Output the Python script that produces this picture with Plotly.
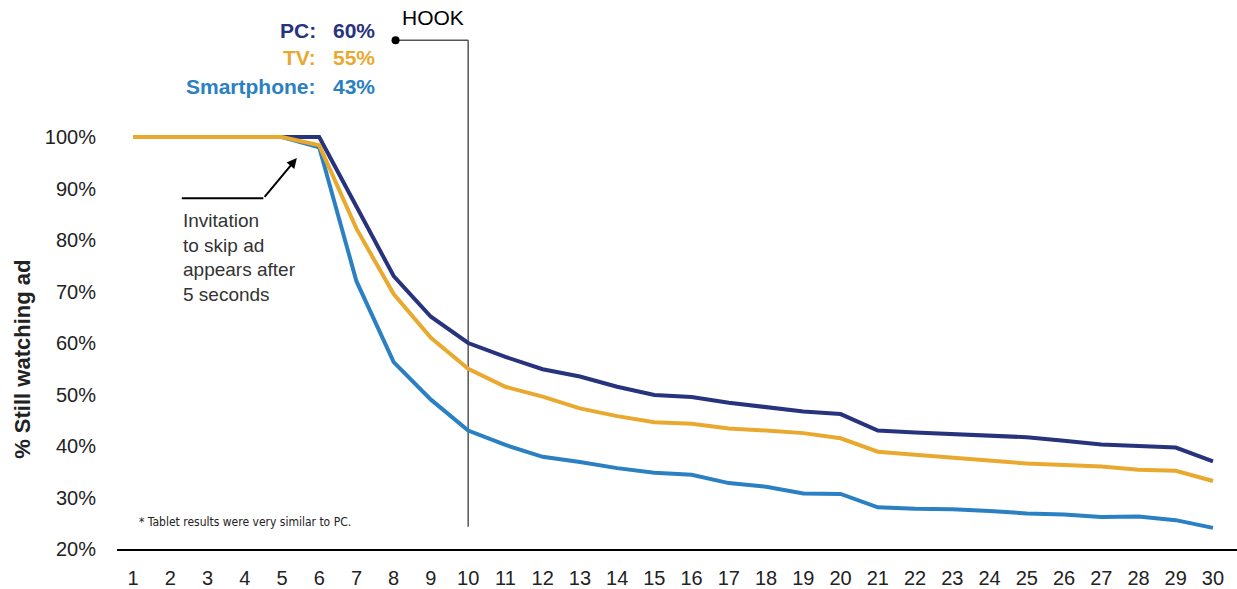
import plotly.graph_objects as go

# Seconds into the ad (x axis)
seconds = list(range(1, 31))

# Share of viewers still watching, by device (%)
pc = [100, 100, 100, 100, 100, 100, 86.5, 73.0, 65.1, 60.0,
      57.3, 54.9, 53.5, 51.5, 49.9, 49.5, 48.4, 47.5, 46.7, 46.2,
      43.0, 42.6, 42.3, 42.1, 41.7, 41.0, 40.3, 40.0, 39.7, 37.0]
tv = [100, 100, 100, 100, 100, 98.4, 82.2, 69.5, 61.0, 55.0,
      51.5, 49.6, 47.3, 45.8, 44.6, 44.3, 43.4, 43.0, 42.5, 41.5,
      38.9, 38.3, 37.7, 37.1, 36.6, 36.3, 36.0, 35.4, 35.2, 33.2]
smartphone = [100, 100, 100, 100, 100, 98.0, 72.0, 56.3, 49.0, 43.0,
              40.2, 37.9, 36.9, 35.7, 34.8, 34.4, 32.8, 32.1, 30.8, 30.7,
              28.1, 27.8, 27.7, 27.4, 26.9, 26.7, 26.2, 26.3, 25.6, 24.1]

y_ticks = [20, 30, 40, 50, 60, 70, 80, 90, 100]
y_tick_labels = [f"{v}%" for v in y_ticks]

HOOK_SECOND = 10
SKIP_SECOND = 5

NAVY = "#28337D"
GOLD = "#E9A92F"
BLUE = "#2A80C2"
FONT = "Liberation Sans, Arial, Helvetica, sans-serif"

fig = go.Figure()
series = [("Smartphone", smartphone, BLUE), ("PC", pc, NAVY), ("TV", tv, GOLD)]
for name, vals, col in series:
    fig.add_trace(go.Scatter(x=seconds, y=vals, mode="lines", name=name,
                             line=dict(color=col, width=4), hoverinfo="skip"))

# "HOOK" marker: vertical rule at the hook second with a leader to the label
hook_top = 118.8
hook_bottom = 24.3
hook_left = 8.05
fig.add_shape(type="line", x0=HOOK_SECOND, x1=HOOK_SECOND, y0=hook_bottom, y1=hook_top,
              line=dict(color="#555555", width=1.5), layer="below")
fig.add_shape(type="line", x0=hook_left, x1=HOOK_SECOND, y0=hook_top, y1=hook_top,
              line=dict(color="#555555", width=1.5), layer="below")
fig.add_trace(go.Scatter(x=[hook_left], y=[hook_top], mode="markers",
                         marker=dict(color="black", size=8), hoverinfo="skip"))
fig.add_annotation(x=hook_left + 0.12, y=123.2, text="HOOK", showarrow=False,
                   xanchor="left", yanchor="middle",
                   font=dict(family=FONT, size=21, color="black"))

# Retention at the hook second, per device
label_rows = [("PC:", pc, NAVY, 120.6), ("TV:", tv, GOLD, 115.5), ("Smartphone:", smartphone, BLUE, 109.9)]
for lab, vals, col, yy in label_rows:
    val = vals[seconds.index(HOOK_SECOND)]
    fig.add_annotation(x=5.98, y=yy, text=f"<b>{lab}</b>", showarrow=False,
                       xanchor="right", yanchor="middle", align="right",
                       font=dict(family=FONT, size=21, color=col))
    fig.add_annotation(x=7.55, y=yy, text=f"<b>{round(val)}%</b>", showarrow=False,
                       xanchor="right", yanchor="middle", align="right",
                       font=dict(family=FONT, size=21, color=col))

# Skip-ad callout
fig.add_shape(type="line", x0=2.31, x1=4.5, y0=88.1, y1=88.1,
              line=dict(color="black", width=2))
fig.add_annotation(x=SKIP_SECOND + 0.4, y=95.9, ax=4.5, ay=88.1, axref="x", ayref="y",
                   xref="x", yref="y", text="", showarrow=True,
                   arrowhead=2, arrowsize=1, arrowwidth=2, arrowcolor="black")
fig.add_annotation(x=2.29, y=86.3, text="Invitation<br>to skip ad<br>appears after<br>5 seconds",
                   showarrow=False, xanchor="left", yanchor="top", align="left",
                   font=dict(family=FONT, size=19, color="#333333"))

# Footnote
fig.add_annotation(x=1.11, y=25.2, text="* Tablet results were very similar to PC.",
                   showarrow=False, xanchor="left", yanchor="middle",
                   font=dict(family="Liberation Sans Narrow, DejaVu Sans Condensed, Arial Narrow, sans-serif",
                             size=12, color="#222222"))

# Axis title, placed to the left of the tick labels
fig.add_annotation(x=-0.0839, y=0.351, xref="paper", yref="paper",
                   text="<b>% Still watching ad</b>", textangle=-90, showarrow=False,
                   xanchor="center", yanchor="middle",
                   font=dict(family=FONT, size=22, color="#222222"))

fig.update_layout(
    width=1237, height=589,
    margin=dict(l=117, r=0, t=10, b=40),
    paper_bgcolor="white", plot_bgcolor="white",
    showlegend=False,
    font=dict(family=FONT, color="#222222"),
    xaxis=dict(range=[0.5704, 30.645], tickvals=seconds, ticktext=[str(s) for s in seconds],
               showgrid=False, zeroline=False, showline=True, linecolor="black", linewidth=2,
               ticks="", tickfont=dict(family=FONT, size=20, color="#222222"),
               ticklabelstandoff=10),
    yaxis=dict(range=[20, 124.66], tickvals=y_ticks, ticktext=y_tick_labels,
               showgrid=False, zeroline=False, showline=False, ticks="",
               tickfont=dict(family=FONT, size=20, color="#222222"),
               ticklabelstandoff=20),
)

fig.write_html("out.html")
